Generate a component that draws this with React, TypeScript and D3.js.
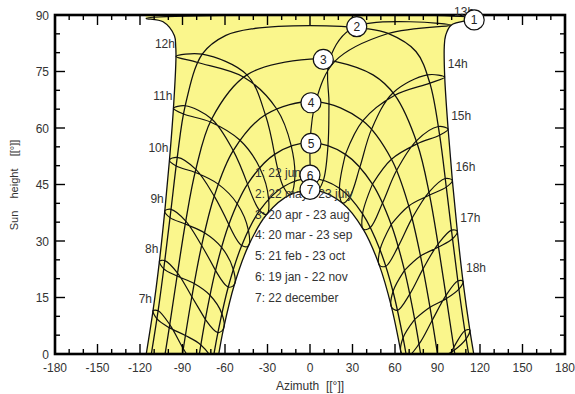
import * as d3 from "d3";

// sun position [azimuth, height] at clock hours 7h..19h, one row per date
const hours = [7, 8, 9, 10, 11, 12, 13, 14, 15, 16, 17, 18, 19];

const jun22 = [[-110.8, 11.5], [-106.3, 24.6], [-102.5, 38.0], [-99.2, 51.5], [-96.4, 65.2], [-94.6, 79.0], [99.6, 87.3], [95.1, 73.5], [97.5, 59.7], [100.5, 46.1], [104.0, 32.6], [108.0, 19.3], [112.8, 6.4]];
const jul23 = [[-108.0, 9.3], [-103.2, 22.6], [-98.8, 36.2], [-94.4, 49.9], [-89.2, 63.7], [-79.4, 77.4], [30.7, 86.7], [82.8, 74.1], [90.6, 60.4], [95.5, 46.6], [99.9, 32.9], [104.3, 19.4], [109.3, 6.2]];
const aug23 = [[-99.4, 7.0], [-93.9, 20.7], [-88.1, 34.5], [-81.0, 48.2], [-70.3, 61.6], [-46.7, 73.5], [13.6, 78.0], [58.5, 69.3], [75.1, 56.6], [84.0, 43.0], [90.4, 29.2], [95.9, 15.5], [101.5, 1.8]];
const sep23 = [[-87.9, 4.9], [-81.8, 18.7], [-74.5, 32.2], [-64.8, 45.1], [-49.6, 56.8], [-23.6, 65.1], [13.4, 66.4], [43.5, 59.7], [61.1, 48.7], [72.0, 36.0], [79.8, 22.6], [86.2, 8.9], [92.1, -4.9]];
const oct23 = [[-77.0, 2.4], [-70.6, 15.6], [-62.4, 28.3], [-51.4, 39.9], [-35.6, 49.5], [-13.3, 55.3], [12.7, 55.3], [35.2, 49.6], [51.2, 40.1], [62.2, 28.5], [70.4, 15.9], [76.9, 2.6], [82.6, -10.9]];
const nov22 = [[-68.6, -1.8], [-62.2, 10.7], [-54.2, 22.5], [-43.5, 32.9], [-29.2, 41.1], [-10.9, 45.9], [9.4, 46.1], [27.9, 41.6], [42.6, 33.6], [53.5, 23.3], [61.7, 11.6], [68.2, -0.9], [73.4, -13.9]];
const dec22 = [[-66.9, -5.7], [-61.0, 6.8], [-53.4, 18.4], [-43.5, 28.7], [-30.5, 37.1], [-13.9, 42.3], [4.9, 43.4], [22.8, 40.1], [37.6, 33.1], [48.9, 23.6], [57.5, 12.5], [64.2, 0.5], [69.5, -12.3]];
const jan19 = [[-70.8, -7.1], [-65.0, 5.7], [-57.7, 17.8], [-48.2, 28.8], [-35.5, 38.1], [-18.8, 44.4], [1.1, 46.6], [20.8, 44.0], [37.1, 37.2], [49.4, 27.7], [58.6, 16.6], [65.7, 4.3], [71.4, -8.5]];
const feb21 = [[-79.9, -4.3], [-73.9, 9.2], [-66.7, 22.2], [-57.3, 34.4], [-44.1, 45.1], [-25.0, 53.0], [0.0, 56.1], [25.0, 53.0], [44.1, 45.1], [57.3, 34.4], [66.7, 22.2], [73.9, 9.2], [79.9, -4.3]];
const mar20 = [[-89.4, 1.4], [-83.4, 15.2], [-76.5, 28.8], [-67.6, 41.9], [-54.2, 54.0], [-31.5, 63.5], [4.0, 67.0], [37.2, 61.9], [57.5, 51.7], [69.7, 39.3], [78.0, 26.0], [84.7, 12.4], [90.6, -1.4]];
const apr20 = [[-99.0, 7.8], [-93.5, 21.5], [-87.7, 35.3], [-80.6, 49.0], [-69.4, 62.4], [-44.5, 74.1], [17.5, 77.7], [59.9, 68.7], [75.7, 55.8], [84.4, 42.2], [90.7, 28.4], [96.3, 14.7], [101.8, 1.0]];
const may22 = [[-107.2, 11.5], [-102.5, 24.8], [-98.1, 38.4], [-93.7, 52.2], [-88.1, 65.9], [-76.1, 79.6], [55.1, 85.1], [84.6, 71.9], [91.5, 58.1], [96.2, 44.3], [100.6, 30.6], [105.1, 17.2], [110.2, 4.0]];

// day paths, sunrise to sunset
const path1 = [[-115.6, 0], [-110.8, 11.5], [-106.3, 24.6], [-102.5, 38.0], [-99.2, 51.5], [-96.4, 65.2], [-94.6, 79.0], [-94.8, 81.7], [-95.7, 84.5], [-103.7, 88.2], [-115.6, 89.1], [115.6, 89.1], [99.6, 87.3], [95.7, 84.5], [94.8, 81.7], [95.1, 73.5], [97.5, 59.7], [100.5, 46.1], [104.0, 32.6], [108.0, 19.3], [112.8, 6.4], [115.6, 0]];
const path2 = [[-112.0, 0], [-107.2, 11.5], [-102.5, 24.8], [-98.1, 38.4], [-93.7, 52.2], [-88.1, 65.9], [-76.1, 79.6], [-59.4, 84.6], [-39.7, 86.4], [0, 87.2], [39.7, 86.4], [55.1, 85.1], [74.8, 80.3], [84.6, 71.9], [91.5, 58.1], [96.2, 44.3], [100.6, 30.6], [105.1, 17.2], [110.2, 4.0], [112.0, 0]];
const path3 = [[-102.3, 0], [-99.0, 7.8], [-93.5, 21.5], [-87.7, 35.3], [-80.6, 49.0], [-69.4, 62.4], [-44.5, 74.1], [0, 78.3], [17.5, 77.7], [44.5, 74.1], [59.9, 68.7], [75.7, 55.8], [84.4, 42.2], [90.7, 28.4], [96.3, 14.7], [101.8, 1.0], [102.3, 0]];
const path4 = [[-90.0, 0], [-83.4, 15.2], [-76.5, 28.8], [-67.6, 41.9], [-54.2, 54.0], [-31.5, 63.5], [4.0, 67.0], [37.2, 61.9], [57.5, 51.7], [69.7, 39.3], [78.0, 26.0], [84.7, 12.4], [90.0, 0]];
const path5 = [[-78.1, 0], [-73.9, 9.2], [-66.7, 22.2], [-57.3, 34.4], [-44.1, 45.1], [-25.0, 53.0], [0, 56.1], [25.0, 53.0], [44.1, 45.1], [57.3, 34.4], [66.7, 22.2], [73.9, 9.2], [78.1, 0]];
const path6 = [[-67.8, 0], [-65.0, 5.7], [-57.7, 17.8], [-48.2, 28.8], [-35.5, 38.1], [-18.8, 44.4], [1.1, 46.6], [20.8, 44.0], [37.1, 37.2], [49.4, 27.7], [58.6, 16.6], [65.7, 4.3], [67.8, 0]];
const path7 = [[-64.4, 0], [-61.0, 6.8], [-53.4, 18.4], [-43.5, 28.7], [-30.5, 37.1], [-13.9, 42.3], [4.9, 43.4], [22.8, 40.1], [37.6, 33.1], [48.9, 23.6], [57.5, 12.5], [64.4, 0]];

const legend = ["1: 22 june", "2: 22 may - 23 july", "3: 20 apr - 23 aug", "4: 20 mar - 23 sep", "5: 21 feb - 23 oct", "6: 19 jan - 22 nov", "7: 22 december"];

// numbered markers
const markerAz = [115.9, 33.0, 9.4, 0.7, 0.7, 0, 0];
const markerHeight = [88.7, 86.9, 78.2, 66.7, 55.9, 47.5, 43.7];

const font = "'Liberation Sans', Arial, sans-serif";
const textColor = "#333";

export default function App() {
  const width = 575;
  const height = 394;
  const x = d3.scaleLinear().domain([-180, 180]).range([55, 565]);
  const y = d3.scaleLinear().domain([0, 90]).range([354, 15]);

  const line = d3
    .line<number[]>()
    .x((d) => x(d[0]))
    .y((d) => y(d[1]))
    .curve(d3.curveCatmullRom.alpha(0.5));

  const dayPaths = [path1, path2, path3, path4, path5, path6, path7];

  // hour lines go round the year, starting and ending at feb 21
  const year = [feb21, mar20, apr20, may22, jun22, jul23, aug23, sep23, oct23, nov22, dec22, jan19, feb21];
  const hourLines = hours.map((h, i) => year.map((d) => d[i]));

  const fillD =
    line(path1) + (line([...path7].reverse()) || "").replace(/^M/, "L") + "Z";

  const xTicks = d3.range(-180, 181, 10);
  const yTicks = d3.range(0, 91, 5);
  const [x0, x1] = x.range();
  const [yb, yt] = y.range();

  return (
    <svg
      width={width}
      height={height}
      style={{ position: "absolute", left: 0, top: 0, background: "#fff" }}
      fontFamily={font}
    >
      <defs>
        <clipPath id="plot">
          <rect x={x0} y={yt} width={x1 - x0} height={yb - yt} />
        </clipPath>
      </defs>

      <g clipPath="url(#plot)">
        <path d={fillD} fill="#FAF68C" stroke="none" />
        <rect x={x(-116)} y={y(90)} width={x(116) - x(-116)} height={y(89.1) - y(90)} fill="#FAF68C" />
        {dayPaths.map((p, i) => (
          <path key={"d" + i} d={line(p) || ""} fill="none" stroke="#111" strokeWidth={1.3} />
        ))}
        {hourLines.map((p, i) => (
          <path key={"h" + i} d={line(p) || ""} fill="none" stroke="#111" strokeWidth={1.2} />
        ))}
      </g>

      {/* frame and ticks */}
      <rect x={x0} y={yt} width={x1 - x0} height={yb - yt} fill="none" stroke="#000" strokeWidth={2.6} />
      {xTicks.map((t) => {
        const len = t % 30 === 0 ? 10 : 5;
        return (
          <g key={"xt" + t} stroke="#000" strokeWidth={1.4}>
            <line x1={x(t)} x2={x(t)} y1={yb} y2={yb - len} />
            <line x1={x(t)} x2={x(t)} y1={yt} y2={yt + len} />
          </g>
        );
      })}
      {yTicks.map((t) => {
        const len = t % 15 === 0 ? 10 : 5;
        return (
          <g key={"yt" + t} stroke="#000" strokeWidth={1.4}>
            <line x1={x0} x2={x0 + len} y1={y(t)} y2={y(t)} />
            <line x1={x1} x2={x1 - len} y1={y(t)} y2={y(t)} />
          </g>
        );
      })}
      {d3.range(-180, 181, 30).map((t) => (
        <text key={"xl" + t} x={x(t)} y={372} textAnchor="middle" fontSize={12} fill={textColor}>
          {t}
        </text>
      ))}
      {d3.range(0, 91, 15).map((t) => (
        <text key={"yl" + t} x={49} y={y(t) + 4.5} textAnchor="end" fontSize={12} fill={textColor}>
          {t}
        </text>
      ))}
      <text x={310} y={390} textAnchor="middle" fontSize={12} fill={textColor} style={{ whiteSpace: "pre" }}>
        {"Azimuth  [[°]]"}
      </text>
      <text
        transform={`translate(18,185) rotate(-90)`}
        textAnchor="middle"
        fontSize={11}
        fill={textColor}
        style={{ whiteSpace: "pre" }}
      >
        {"Sun    height    [[°]]"}
      </text>

      {/* hour labels at the 22 june points */}
      {hours.slice(0, 12).map((h, i) => {
        const [az, ht] = jun22[i];
        const left = az < 0;
        return (
          <text
            key={"hl" + h}
            x={left ? x(az) - 1 : x(az) + 3}
            y={left ? y(ht) - 8 : y(ht) - 9}
            textAnchor={left ? "end" : "start"}
            fontSize={12}
            fill={textColor}
          >
            {h + "h"}
          </text>
        );
      })}

      {legend.map((s, i) => (
        <text key={"lg" + i} x={255} y={177 + i * 20.8} fontSize={12} fill={textColor}>
          {s}
        </text>
      ))}

      {markerAz.map((az, i) => (
        <g key={"m" + i} transform={`translate(${x(az)},${y(markerHeight[i])})`}>
          <circle r={10} fill="#fff" stroke="#111" strokeWidth={1.2} />
          <text textAnchor="middle" dy={4.5} fontSize={12} fill="#222">
            {i + 1}
          </text>
        </g>
      ))}
    </svg>
  );
}
